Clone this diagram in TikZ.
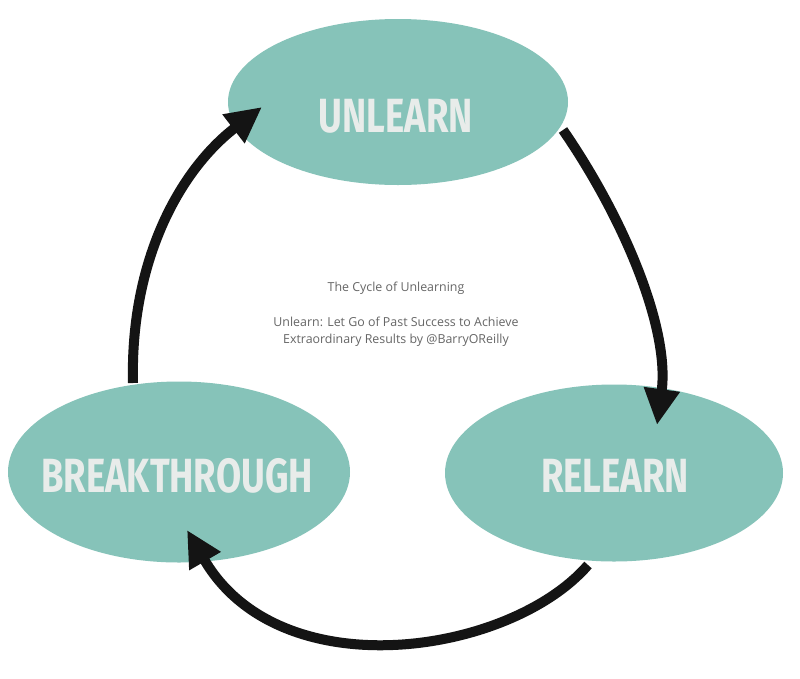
\documentclass[tikz,border=0pt]{standalone}
\usepackage{fontspec}
\usetikzlibrary{arrows.meta,shapes.geometric}
\setmainfont{Open Sans}
\newfontfamily\condfont[FakeStretch=0.76]{Fira Sans}
\definecolor{teal1}{HTML}{86C3B9}
\definecolor{lbl}{HTML}{E8ECEA}
\definecolor{greytext}{HTML}{666666}
\definecolor{arrowc}{HTML}{141414}
\tikzset{
  blob/.style={ellipse, fill=teal1, draw=none, inner sep=0pt},
  bigword/.style={text=lbl, font=\condfont\bfseries\fontsize{48}{50}\selectfont},
  cyc/.style={draw=arrowc, line width=10pt, -{Triangle[length=36pt,width=34pt]}},
}
\begin{document}
\begin{tikzpicture}[x=1pt,y=-1pt]
\useasboundingbox (0,0) rectangle (800,678);
\fill[white] (0,0) rectangle (800,678);
\node[blob, minimum width=340pt, minimum height=166pt] (un) at (398,102) {};
\node[blob, minimum width=342pt, minimum height=181pt] (br) at (179,472) {};
\node[blob, minimum width=338pt, minimum height=177pt] (re) at (614,473) {};
\node[bigword] (unt) at (396,116) {UNLEARN};
\node[bigword] (brt) at (177,476) {BREAKTHROUGH};
\node[bigword] (ret) at (615,476) {RELEARN};
\node[text=greytext, font=\fontsize{12.4}{17.5}\selectfont, align=center] (ctr) at (396,314)
  {The Cycle of Unlearning\\[17.5pt]Unlearn: Let Go of Past Success to Achieve\\Extraordinary Results by @BarryOReilly};
\coordinate (a1s) at (563,130);
\coordinate (a1e) at (657,425);
\coordinate (a2s) at (588,565);
\coordinate (a2e) at (187,530);
\coordinate (a3s) at (133,383);
\coordinate (a3e) at (262,107);
\draw[cyc] (a1s) .. controls (625,220) and (670,330) .. (a1e);
\draw[cyc] (a2s) .. controls (510,655) and (280,690) .. (a2e);
\draw[cyc] (a3s) .. controls (130,260) and (180,170) .. (a3e);
\end{tikzpicture}
\end{document}
